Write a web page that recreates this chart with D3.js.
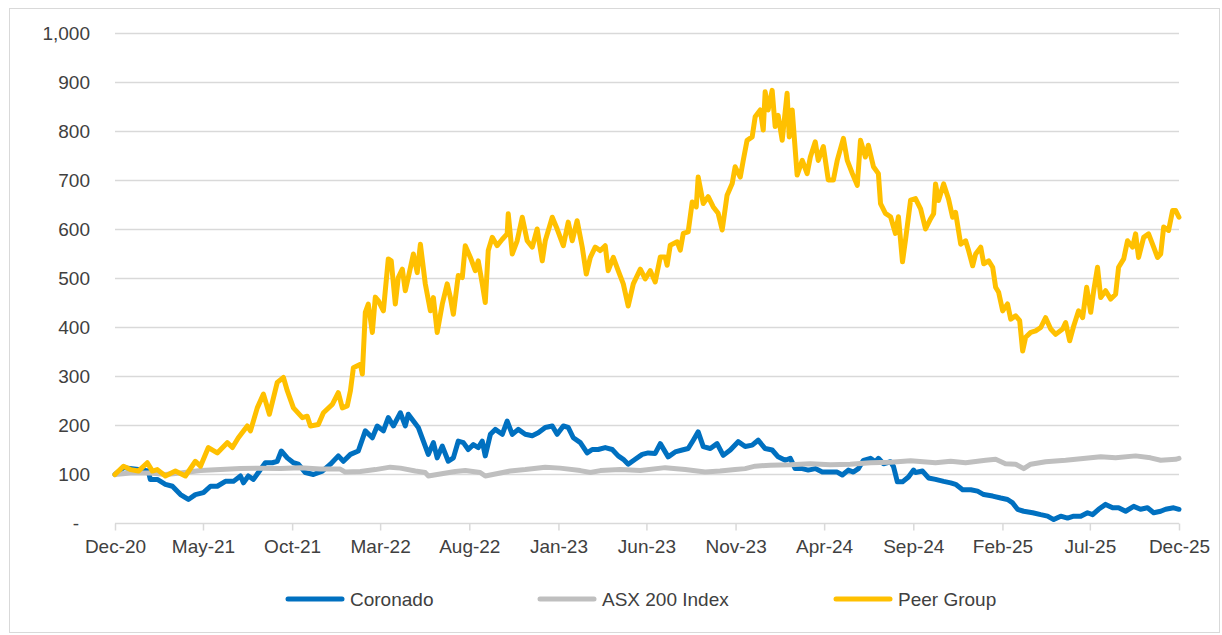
<!DOCTYPE html>
<html>
<head>
<meta charset="utf-8">
<script src="https://cdn.jsdelivr.net/npm/d3@7"></script>
<style>
  body { margin: 0; background: #fff; }
  svg { font-family: "Liberation Sans", Arial, sans-serif; }
  .tick text { fill: #404040; font-size: 19px; }
  .legend text { fill: #404040; font-size: 19px; }
</style>
</head>
<body>
<svg width="1222" height="635"></svg>
<script>
// values, indexed to 100 at Dec-20; time as decimal year
var coronado = [
  [2020.915,100],[2020.955,114],[2021.025,110],[2021.072,107],[2021.081,90],[2021.114,90],[2021.152,80],
  [2021.185,76],[2021.223,59],[2021.260,49],[2021.293,59],[2021.331,63],[2021.364,76],[2021.396,76],
  [2021.434,86],[2021.472,86],[2021.505,97],[2021.519,83],[2021.542,97],[2021.566,90],[2021.589,104],
  [2021.622,124],[2021.655,124],[2021.678,127],[2021.697,148],[2021.725,134],[2021.754,124],[2021.777,121],
  [2021.810,104],[2021.848,100],[2021.890,107],[2021.928,121],[2021.965,138],[2021.989,127],[2022.022,141],
  [2022.059,148],[2022.092,189],[2022.125,175],[2022.148,199],[2022.177,189],[2022.200,216],[2022.224,199],
  [2022.257,226],[2022.280,199],[2022.294,223],[2022.318,209],[2022.341,196],[2022.365,168],[2022.388,141],
  [2022.412,165],[2022.430,134],[2022.454,158],[2022.482,127],[2022.506,134],[2022.529,168],[2022.553,165],
  [2022.576,151],[2022.600,161],[2022.623,155],[2022.642,168],[2022.656,138],[2022.680,182],[2022.703,192],
  [2022.736,182],[2022.759,209],[2022.783,182],[2022.811,192],[2022.844,182],[2022.877,179],[2022.905,185],
  [2022.938,196],[2022.971,199],[2022.994,182],[2023.023,199],[2023.046,196],[2023.070,175],[2023.103,165],
  [2023.135,144],[2023.159,151],[2023.187,151],[2023.220,155],[2023.253,151],[2023.281,138],[2023.305,131],
  [2023.328,121],[2023.361,131],[2023.394,141],[2023.422,144],[2023.455,143],[2023.479,163],[2023.516,136],
  [2023.549,146],[2023.582,150],[2023.610,153],[2023.634,170],[2023.657,187],[2023.681,157],[2023.714,153],
  [2023.746,163],[2023.775,139],[2023.808,150],[2023.845,167],[2023.878,157],[2023.911,160],[2023.939,170],
  [2023.972,153],[2024.005,150],[2024.033,136],[2024.066,129],[2024.090,133],[2024.113,112],[2024.146,112],
  [2024.174,109],[2024.207,112],[2024.240,105],[2024.278,105],[2024.310,105],[2024.334,99],[2024.362,109],
  [2024.386,105],[2024.409,112],[2024.433,129],[2024.466,133],[2024.489,126],[2024.503,133],[2024.527,122],
  [2024.560,126],[2024.574,116],[2024.592,85],[2024.616,85],[2024.644,95],[2024.668,109],[2024.677,104],
  [2024.710,107],[2024.738,93],[2024.771,90],[2024.809,86],[2024.842,83],[2024.865,80],[2024.898,69],
  [2024.936,69],[2024.968,66],[2024.997,59],[2025.039,56],[2025.077,52],[2025.109,49],[2025.133,42],
  [2025.156,29],[2025.185,25],[2025.227,22],[2025.265,18],[2025.297,15],[2025.326,8],[2025.359,15],
  [2025.391,11],[2025.420,15],[2025.453,15],[2025.485,22],[2025.509,18],[2025.537,29],[2025.570,39],
  [2025.603,32],[2025.631,32],[2025.664,25],[2025.702,35],[2025.734,29],[2025.767,32],[2025.796,22],
  [2025.829,25],[2025.852,29],[2025.890,32],[2025.915,29]
];

var asx200 = [
  [2020.915,100],[2020.988,103],[2021.081,103],[2021.152,100],[2021.223,103],[2021.317,108],[2021.410,110],
  [2021.505,112],[2021.598,113],[2021.693,112],[2021.786,114],[2021.880,111],[2021.974,111],[2021.998,105],
  [2022.069,106],[2022.139,110],[2022.209,115],[2022.257,113],[2022.327,107],[2022.374,104],[2022.388,97],
  [2022.444,101],[2022.515,106],[2022.562,108],[2022.632,104],[2022.656,97],[2022.703,101],[2022.773,107],
  [2022.844,110],[2022.938,115],[2023.008,113],[2023.103,108],[2023.150,104],[2023.197,108],[2023.290,110],
  [2023.385,108],[2023.502,114],[2023.596,110],[2023.690,105],[2023.760,107],[2023.831,110],[2023.878,112],
  [2023.925,117],[2023.995,119],[2024.090,120],[2024.184,122],[2024.278,120],[2024.371,121],[2024.466,124],
  [2024.560,125],[2024.654,128],[2024.771,124],[2024.842,127],[2024.912,124],[2025.006,129],[2025.053,131],
  [2025.099,122],[2025.147,121],[2025.185,112],[2025.218,121],[2025.288,126],[2025.382,129],[2025.476,133],
  [2025.547,136],[2025.617,134],[2025.711,138],[2025.781,134],[2025.829,129],[2025.899,131],[2025.915,133]
];

var peerGroup = [
  [2020.915,100],[2020.955,117],[2020.988,110],[2021.025,107],[2021.067,124],[2021.091,107],[2021.114,110],
  [2021.152,97],[2021.199,107],[2021.246,97],[2021.293,127],[2021.317,117],[2021.354,155],[2021.396,144],
  [2021.443,165],[2021.467,155],[2021.495,175],[2021.537,199],[2021.552,189],[2021.584,236],[2021.613,264],
  [2021.641,223],[2021.678,288],[2021.707,298],[2021.725,271],[2021.754,236],[2021.796,216],[2021.819,219],
  [2021.834,199],[2021.871,202],[2021.895,226],[2021.937,243],[2021.965,267],[2021.984,236],[2022.007,240],
  [2022.022,271],[2022.036,318],[2022.069,325],[2022.078,305],[2022.092,431],[2022.106,448],[2022.125,390],
  [2022.139,462],[2022.153,455],[2022.177,434],[2022.200,540],[2022.214,536],[2022.233,448],[2022.247,502],
  [2022.266,519],[2022.280,475],[2022.294,502],[2022.318,550],[2022.336,512],[2022.351,570],[2022.374,489],
  [2022.398,434],[2022.412,461],[2022.430,390],[2022.454,448],[2022.477,489],[2022.492,461],[2022.506,427],
  [2022.529,506],[2022.548,502],[2022.562,567],[2022.586,543],[2022.609,516],[2022.623,536],[2022.642,489],
  [2022.656,451],[2022.670,557],[2022.689,584],[2022.712,567],[2022.736,580],[2022.759,591],[2022.764,632],
  [2022.783,550],[2022.806,577],[2022.830,625],[2022.853,577],[2022.877,564],[2022.900,601],[2022.924,536],
  [2022.938,577],[2022.971,625],[2022.994,601],[2023.023,567],[2023.046,615],[2023.065,577],[2023.088,618],
  [2023.112,564],[2023.131,509],[2023.150,543],[2023.173,564],[2023.197,557],[2023.220,567],[2023.234,516],
  [2023.258,543],[2023.281,516],[2023.305,489],[2023.328,444],[2023.352,489],[2023.385,519],[2023.408,499],
  [2023.432,516],[2023.455,493],[2023.479,544],[2023.502,544],[2023.511,527],[2023.526,568],[2023.558,575],
  [2023.573,558],[2023.587,592],[2023.610,595],[2023.629,656],[2023.648,646],[2023.657,707],[2023.681,653],
  [2023.704,667],[2023.728,646],[2023.751,633],[2023.770,599],[2023.793,670],[2023.817,694],[2023.831,728],
  [2023.855,707],[2023.869,741],[2023.887,782],[2023.911,789],[2023.925,830],[2023.949,844],[2023.963,803],
  [2023.972,881],[2023.986,844],[2024.005,884],[2024.019,810],[2024.033,833],[2024.052,782],[2024.075,878],
  [2024.085,789],[2024.099,844],[2024.122,711],[2024.146,741],[2024.169,714],[2024.184,748],[2024.207,779],
  [2024.221,741],[2024.245,769],[2024.268,701],[2024.292,701],[2024.310,741],[2024.339,786],[2024.357,741],
  [2024.381,714],[2024.404,690],[2024.419,782],[2024.442,748],[2024.456,772],[2024.480,728],[2024.503,714],
  [2024.513,653],[2024.536,633],[2024.560,626],[2024.583,592],[2024.597,626],[2024.616,534],[2024.630,578],
  [2024.654,660],[2024.677,663],[2024.701,642],[2024.724,601],[2024.748,622],[2024.762,632],[2024.771,693],
  [2024.785,659],[2024.809,693],[2024.832,662],[2024.851,625],[2024.865,635],[2024.889,570],[2024.912,577],
  [2024.926,557],[2024.945,526],[2024.959,550],[2024.983,564],[2024.997,530],[2025.020,536],[2025.039,523],
  [2025.053,482],[2025.067,472],[2025.086,434],[2025.109,448],[2025.124,417],[2025.147,424],[2025.166,414],
  [2025.180,352],[2025.194,380],[2025.218,390],[2025.241,393],[2025.265,400],[2025.288,420],[2025.312,397],
  [2025.335,386],[2025.368,397],[2025.382,410],[2025.401,373],[2025.420,403],[2025.443,434],[2025.462,420],
  [2025.481,482],[2025.500,431],[2025.514,475],[2025.532,523],[2025.547,461],[2025.570,475],[2025.594,458],
  [2025.617,468],[2025.631,523],[2025.655,540],[2025.673,577],[2025.697,564],[2025.711,591],[2025.725,543],
  [2025.749,584],[2025.772,591],[2025.796,564],[2025.814,543],[2025.829,550],[2025.843,605],[2025.866,598],
  [2025.885,639],[2025.899,639],[2025.915,625]
];

var seriesNames = ["Coronado", "ASX 200 Index", "Peer Group"];
var xTickLabels = ["Dec-20","May-21","Oct-21","Mar-22","Aug-22","Jan-23","Jun-23",
                   "Nov-23","Apr-24","Sep-24","Feb-25","Jul-25","Dec-25"];
var yTicks = [0,100,200,300,400,500,600,700,800,900,1000];

var colors = ["#0070C0", "#BFBFBF", "#FFC000"];
var series = [coronado, asx200, peerGroup];

function toDate(t) {
  var yr = Math.floor(t);
  var s = Date.UTC(yr, 0, 1), e = Date.UTC(yr + 1, 0, 1);
  return new Date(s + (t - yr) * (e - s));
}

var svg = d3.select("svg");
var plotLeft = 115, plotRight = 1179, plotTop = 33.5, plotBottom = 523.5;

// outer frame
svg.append("rect")
  .attr("x", 9.5).attr("y", 8.5)
  .attr("width", 1210).attr("height", 624)
  .attr("fill", "none").attr("stroke", "#d9d9d9");

var start = new Date(Date.UTC(2020, 11, 1));
var x = d3.scaleUtc()
  .domain([start, new Date(Date.UTC(2025, 11, 1))])
  .range([plotLeft, plotRight]);
var y = d3.scaleLinear().domain([0, 1000]).range([plotBottom, plotTop]);

// gridlines
svg.append("g").selectAll("line")
  .data(yTicks.filter(function(d) { return d > 0; }))
  .enter().append("line")
  .attr("x1", plotLeft).attr("x2", plotRight)
  .attr("y1", function(d) { return y(d); })
  .attr("y2", function(d) { return y(d); })
  .attr("stroke", "#d9d9d9").attr("stroke-width", 1.5);

// y labels
var yAxis = svg.append("g")
  .attr("transform", "translate(" + plotLeft + ",0)")
  .call(d3.axisLeft(y).tickValues(yTicks).tickSize(0).tickPadding(25)
    .tickFormat(function(d) { return d === 0 ? "-" : d3.format(",")(d); }));
yAxis.select(".domain").remove();
yAxis.selectAll(".tick text")
  .attr("dx", function(d) { return d === 0 ? -11 : 0; });

// x axis
var xTickDates = xTickLabels.map(function(l, i) { return d3.utcMonth.offset(start, 5 * i); });
var xAxis = svg.append("g")
  .attr("transform", "translate(0," + plotBottom + ")")
  .call(d3.axisBottom(x).tickValues(xTickDates).tickSize(7).tickPadding(9)
    .tickFormat(function(d, i) { return xTickLabels[i]; }));
xAxis.select(".domain").attr("stroke", "#d9d9d9").attr("stroke-width", 1.5)
  .attr("d", "M" + plotLeft + ",0H" + plotRight);
xAxis.selectAll(".tick line").attr("stroke", "#d9d9d9").attr("stroke-width", 1.5);

// lines
var line = d3.line()
  .x(function(d) { return x(toDate(d[0])); })
  .y(function(d) { return y(d[1]); });

svg.append("g").selectAll("path")
  .data(series)
  .enter().append("path")
  .attr("d", line)
  .attr("fill", "none")
  .attr("stroke", function(d, i) { return colors[i]; })
  .attr("stroke-width", 5)
  .attr("stroke-linejoin", "round")
  .attr("stroke-linecap", "round");

// legend
var legendX = [288, 540, 836];
var legend = svg.append("g").attr("class", "legend");
seriesNames.forEach(function(name, i) {
  legend.append("line")
    .attr("x1", legendX[i]).attr("x2", legendX[i] + 54)
    .attr("y1", 599).attr("y2", 599)
    .attr("stroke", colors[i]).attr("stroke-width", 5)
    .attr("stroke-linecap", "round");
  legend.append("text")
    .attr("x", legendX[i] + 62).attr("y", 599)
    .attr("dy", "0.35em")
    .text(name);
});
</script>
</body>
</html>
